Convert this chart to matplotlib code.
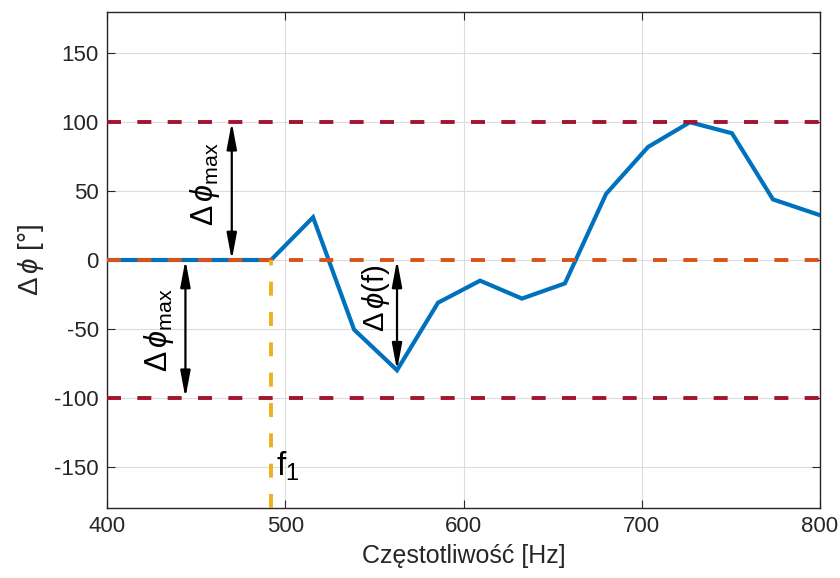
import matplotlib
matplotlib.use("Agg")
import matplotlib.pyplot as plt

freq = [400, 492, 515.6, 538.6, 562.7, 585.7, 609.3, 632.8, 656.9, 680.0, 703.5, 727.0, 750.6, 773.6, 798.9, 800]
dphi = [0, 0, 31, -50.5, -80, -31, -15, -28, -17, 48, 82, 100, 92, 44, 33, 32.5]
limit_max = 100
f1 = 492
xticks = [400, 500, 600, 700, 800]
yticks = [-150, -100, -50, 0, 50, 100, 150]

plt.rcParams['font.family'] = ['Liberation Sans', 'DejaVu Sans']
plt.rcParams['mathtext.fontset'] = 'custom'
plt.rcParams['mathtext.rm'] = 'Liberation Sans'
plt.rcParams['mathtext.it'] = 'Liberation Sans:italic'
plt.rcParams['mathtext.bf'] = 'Liberation Sans:bold'
plt.rcParams['axes.unicode_minus'] = False

fig = plt.figure(figsize=(8.4, 5.78), dpi=100)
ax = fig.add_axes([107/840, 1-508/578, (820-107)/840, (508-12)/578])

blue = '#0072BD'; orange = '#D95319'; red = '#A2142F'; yellow = '#EDB120'
dash = (0, (3.6, 4.2))
ax.plot(freq, dphi, color=blue, lw=3, zorder=3, solid_joinstyle='miter')
ax.axhline(0, color=orange, lw=2.8, ls=dash, zorder=4)
ax.axhline(limit_max, color=red, lw=2.8, ls=dash, zorder=4)
ax.axhline(-limit_max, color=red, lw=2.8, ls=dash, zorder=4)
ax.plot([f1, f1], [-180, 0], color=yellow, lw=2.8, ls=dash, zorder=4)

ap = dict(arrowstyle='<|-|>,head_length=1.6,head_width=0.3', color='black', lw=1.6, shrinkA=0, shrinkB=0)
ax.annotate('', xy=(470, limit_max), xytext=(470, 0), arrowprops=ap, zorder=5)
ax.annotate('', xy=(444, -limit_max), xytext=(444, 0), arrowprops=ap, zorder=5)
ax.annotate('', xy=(562.7, -80), xytext=(562.7, 0), arrowprops=ap, zorder=5)

lbl = r'$\Delta\,\phi_{\mathrm{max}}$'
ax.text(455, 55, lbl, rotation=90, ha='center', va='center', fontsize=22)
ax.text(429, -51, lbl, rotation=90, ha='center', va='center', fontsize=22)
ax.text(551, -28, r'$\Delta\,\phi\mathrm{(f)}$', rotation=90, ha='center', va='center', fontsize=21)
ax.text(495, -150, r'$\mathrm{f_1}$', ha='left', va='center', fontsize=24)

ax.set_xlim(400, 800)
ax.set_ylim(-180, 180)
ax.set_xticks(xticks)
ax.set_yticks(yticks)
ax.grid(True, color='#DCDCDC', lw=0.8)
ax.set_axisbelow(True)
ax.tick_params(direction='in', top=True, right=True, labelsize=16, length=6, color='#262626', labelcolor='#262626', pad=6)
for s in ax.spines.values():
    s.set_color('#262626')
    s.set_linewidth(1)
ax.set_xlabel('Częstotliwość [Hz]', fontsize=18, color='#262626', labelpad=5)
ax.set_ylabel(r'$\Delta\,\phi$ [°]', fontsize=20, color='#262626', labelpad=6)

fig.savefig('out.png', dpi=100)
